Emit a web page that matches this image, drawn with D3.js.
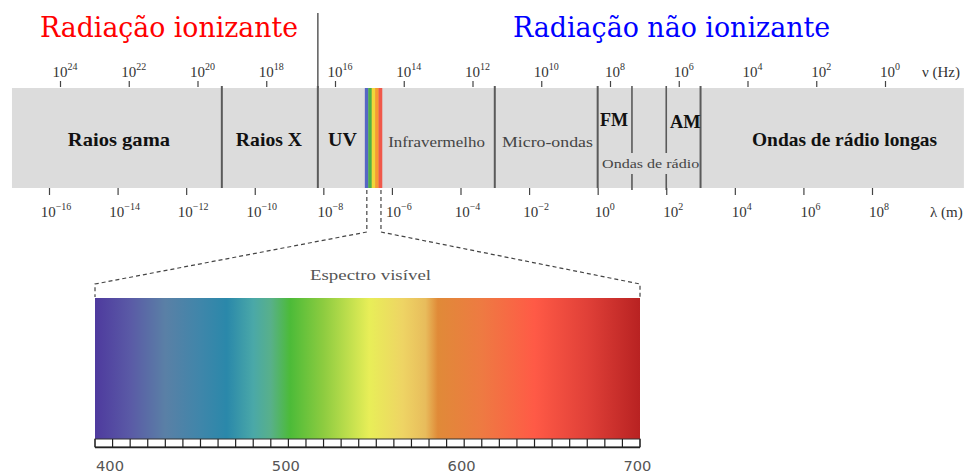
<!DOCTYPE html>
<html><head><meta charset="utf-8">
<script src="https://cdn.jsdelivr.net/npm/d3@7"></script>
<style>body{margin:0;background:#fff}svg{display:block}</style>
</head><body>
<svg id="c" width="973" height="473"></svg>
<script>
// ---- data ----
const freqExponents = [24,22,20,18,16,14,12,10,8,6,4,2,0];
const wavelengthExponents = [-16,-14,-12,-10,-8,-6,-4,-2,0,2,4,6,8];
// band boundaries (log10 wavelength in m)
const bandRange = [-17.08, 10.68];
const fullDividers = [-10.96, -8.16, -3.0, 0.0, 3.0];
const brokenDividers = [1.0, 2.0];
const visibleRange = [-6.79, -6.29];
const visibleStripeColors = ["#5666c4","#4db04a","#f0d63a","#f59c30","#f0584a"];
const bandLabels = [
  {text:"Raios gama", from:-15.45, to:-12.47, bold:true, size:19},
  {text:"Raios X", from:-10.55, to:-8.62, bold:true, size:19},
  {text:"UV", from:-7.86, to:-7.02, bold:true, size:19},
  {text:"Infravermelho", from:-6.11, to:-3.29, bold:false, size:15},
  {text:"Micro-ondas", from:-2.79, to:-0.14, bold:false, size:15},
  {text:"Ondas de rádio longas", from:4.5, to:9.9, bold:true, size:19}
];
const subLabels = [
  {text:"FM", from:0.07, to:0.89, y:126, bold:true, size:19},
  {text:"AM", from:2.11, to:3.0, y:128, bold:true, size:19},
  {text:"Ondas de rádio", from:0.13, to:2.96, y:168, bold:false, size:13}
];
const titles = [
  {text:"Radiação ionizante", from:-16.26, to:-8.74, color:"#ff0000"},
  {text:"Radiação não ionizante", from:-2.47, to:6.78, color:"#0000ff"}
];
// visible spectrum (nm) colour stops
const spectrumDomain = [400, 710];
const spectrumStops = [
  [400,"#4e3a9e"],[420,"#5a5aa6"],[440,"#5a80a6"],[460,"#3f86aa"],[475,"#2a88aa"],
  [490,"#4aa8a8"],[500,"#58b08a"],[511,"#4cbb38"],[530,"#8dcc40"],[556,"#e8ee58"],
  [575,"#eed464"],[588,"#e8bc5c"],[595,"#e08a38"],[620,"#ee7a42"],[650,"#ff5a46"],
  [680,"#e04038"],[710,"#b82222"]
];
const spectrumTickStep = 10;
const spectrumLabels = [400, 500, 600, 700];

// ---- scales ----
const svg = d3.select("#c");
const xLam = d3.scaleLinear().domain([-16, 8]).range([49, 872]);
const xFreq = d3.scaleLinear().domain([24, 0]).range([60, 885]);
const xNm = d3.scaleLinear().domain(spectrumDomain).range([95, 640]);
const serif = "'Liberation Serif','Times New Roman',serif";
const bandTop = 88, bandBot = 188;

// titles
titles.forEach(t => {
  svg.append("text").attr("x", xLam(t.from)).attr("y", 37)
    .attr("font-family", "'DejaVu Serif',serif").attr("font-size", 28)
    .attr("fill", t.color).attr("textLength", xLam(t.to) - xLam(t.from))
    .attr("lengthAdjust", "spacingAndGlyphs").text(t.text);
});
// ionizing divider
svg.append("line").attr("x1", xLam(fullDividers[1])).attr("x2", xLam(fullDividers[1]))
  .attr("y1", 13).attr("y2", bandTop).attr("stroke", "#666").attr("stroke-width", 1.6);

// band
svg.append("rect").attr("x", xLam(bandRange[0])).attr("y", bandTop)
  .attr("width", xLam(bandRange[1]) - xLam(bandRange[0])).attr("height", bandBot - bandTop)
  .attr("fill", "#dcdcdc");

// visible stripes
const stripeScale = d3.scaleBand().domain(d3.range(visibleStripeColors.length))
  .range([xLam(visibleRange[0]), xLam(visibleRange[1])]);
svg.selectAll(".stripe").data(visibleStripeColors).join("rect")
  .attr("x", (d,i) => stripeScale(i)).attr("y", bandTop)
  .attr("width", stripeScale.bandwidth() + 0.3).attr("height", bandBot - bandTop)
  .attr("fill", d => d);

// dividers
svg.selectAll(".div").data(fullDividers).join("line")
  .attr("x1", d => xLam(d)).attr("x2", d => xLam(d))
  .attr("y1", bandTop - 2).attr("y2", bandBot)
  .attr("stroke", "#5a5a5a").attr("stroke-width", 2);
brokenDividers.forEach(d => {
  svg.append("line").attr("x1", xLam(d)).attr("x2", xLam(d)).attr("y1", bandTop - 2).attr("y2", 153)
    .attr("stroke", "#5a5a5a").attr("stroke-width", 1.6);
  svg.append("line").attr("x1", xLam(d)).attr("x2", xLam(d)).attr("y1", 174).attr("y2", bandBot + 2)
    .attr("stroke", "#5a5a5a").attr("stroke-width", 1.6);
});

// band labels
bandLabels.forEach(b => {
  svg.append("text").attr("x", xLam(b.from)).attr("y", b.bold ? 146 : 147)
    .attr("font-family", serif).attr("font-size", b.size)
    .attr("font-weight", b.bold ? "bold" : "normal")
    .attr("fill", b.bold ? "#111" : "#444")
    .attr("textLength", xLam(b.to) - xLam(b.from)).attr("lengthAdjust", "spacingAndGlyphs")
    .text(b.text);
});
subLabels.forEach(b => {
  svg.append("text").attr("x", xLam(b.from)).attr("y", b.y)
    .attr("font-family", serif).attr("font-size", b.size)
    .attr("font-weight", b.bold ? "bold" : "normal")
    .attr("fill", b.bold ? "#111" : "#444")
    .attr("textLength", xLam(b.to) - xLam(b.from)).attr("lengthAdjust", "spacingAndGlyphs")
    .text(b.text);
});

// top frequency axis
const fAxis = d3.axisTop(xFreq).tickValues(freqExponents).tickSize(6).tickFormat("");
const gF = svg.append("g").attr("transform", `translate(0,${bandTop - 1})`).call(fAxis);
gF.select(".domain").remove();
gF.selectAll(".tick line").attr("stroke", "#444").attr("stroke-width", 1.2);
freqExponents.forEach(e => {
  const t = svg.append("text").attr("x", xFreq(e) + 5).attr("y", 77)
    .attr("text-anchor", "middle").attr("font-family", serif).attr("font-size", 15).attr("fill", "#333");
  t.append("tspan").text("10");
  t.append("tspan").attr("dy", -7).attr("font-size", 10).text(e < 0 ? "\u2212" + (-e) : e);
});
svg.append("text").attr("x", 922).attr("y", 77).attr("font-family", serif).attr("font-size", 15)
  .attr("fill", "#333").text("ν (Hz)");

// bottom wavelength axis
const lAxis = d3.axisBottom(xLam).tickValues(wavelengthExponents).tickSize(7).tickFormat("");
const gL = svg.append("g").attr("transform", `translate(0,${bandBot})`).call(lAxis);
gL.select(".domain").remove();
gL.selectAll(".tick line").attr("stroke", "#444").attr("stroke-width", 1.2);
wavelengthExponents.forEach(e => {
  const t = svg.append("text").attr("x", xLam(e) + 7).attr("y", 217)
    .attr("text-anchor", "middle").attr("font-family", serif).attr("font-size", 15).attr("fill", "#333");
  t.append("tspan").text("10");
  t.append("tspan").attr("dy", -7).attr("font-size", 10).text(e < 0 ? "\u2212" + (-e) : e);
});
svg.append("text").attr("x", 930).attr("y", 217).attr("font-family", serif).attr("font-size", 15)
  .attr("fill", "#333").text("λ (m)");

// dashed zoom lines
const specTop = 297, specBot = 439;
const zoomPaths = [
  [[xLam(visibleRange[0]) + 2, bandBot + 2], [xLam(visibleRange[0]) + 2, 232], [xNm(spectrumDomain[0]), 284], [xNm(spectrumDomain[0]), specTop]],
  [[xLam(visibleRange[1]) - 1, bandBot + 2], [xLam(visibleRange[1]) - 1, 232], [xNm(spectrumDomain[1]), 284], [xNm(spectrumDomain[1]), specTop]]
];
zoomPaths.forEach(p => {
  svg.append("path").attr("d", d3.line()(p)).attr("fill", "none")
    .attr("stroke", "#444").attr("stroke-width", 1.2).attr("stroke-dasharray", "4,3");
});
svg.append("text").attr("x", 310).attr("y", 280).attr("font-family", serif).attr("font-size", 14)
  .attr("fill", "#555").attr("textLength", 121).attr("lengthAdjust", "spacingAndGlyphs")
  .text("Espectro visível");

// spectrum gradient
const grad = svg.append("defs").append("linearGradient").attr("id", "spec")
  .attr("x1", 0).attr("x2", 1).attr("y1", 0).attr("y2", 0);
grad.selectAll("stop").data(spectrumStops).join("stop")
  .attr("offset", d => (d[0] - spectrumDomain[0]) / (spectrumDomain[1] - spectrumDomain[0]))
  .attr("stop-color", d => d[1]);
svg.append("rect").attr("x", xNm(spectrumDomain[0])).attr("y", specTop + 1)
  .attr("width", xNm(spectrumDomain[1]) - xNm(spectrumDomain[0])).attr("height", specBot - specTop - 1)
  .attr("fill", "url(#spec)");

// ruler
svg.append("rect").attr("x", xNm(spectrumDomain[0])).attr("y", specBot)
  .attr("width", xNm(spectrumDomain[1]) - xNm(spectrumDomain[0])).attr("height", 8)
  .attr("fill", "#fff").attr("stroke", "#333").attr("stroke-width", 1);
const rTicks = d3.range(spectrumDomain[0], spectrumDomain[1] + 1, spectrumTickStep);
svg.selectAll(".rt").data(rTicks).join("line")
  .attr("x1", d => xNm(d)).attr("x2", d => xNm(d)).attr("y1", specBot).attr("y2", specBot + 8)
  .attr("stroke", "#222").attr("stroke-width", 1.2);
svg.append("line").attr("x1", xNm(spectrumDomain[0])).attr("x2", xNm(spectrumDomain[1]))
  .attr("y1", specBot + 8.5).attr("y2", specBot + 8.5).attr("stroke", "#222").attr("stroke-width", 1.5);
svg.selectAll(".sl").data(spectrumLabels).join("text")
  .attr("x", d => xNm(d) + 1).attr("y", 471)
  .attr("font-family", "'DejaVu Sans',sans-serif").attr("font-size", 14).attr("fill", "#555")
  .attr("textLength", 28).attr("lengthAdjust", "spacingAndGlyphs")
  .text(d => d);
</script>
</body></html>
